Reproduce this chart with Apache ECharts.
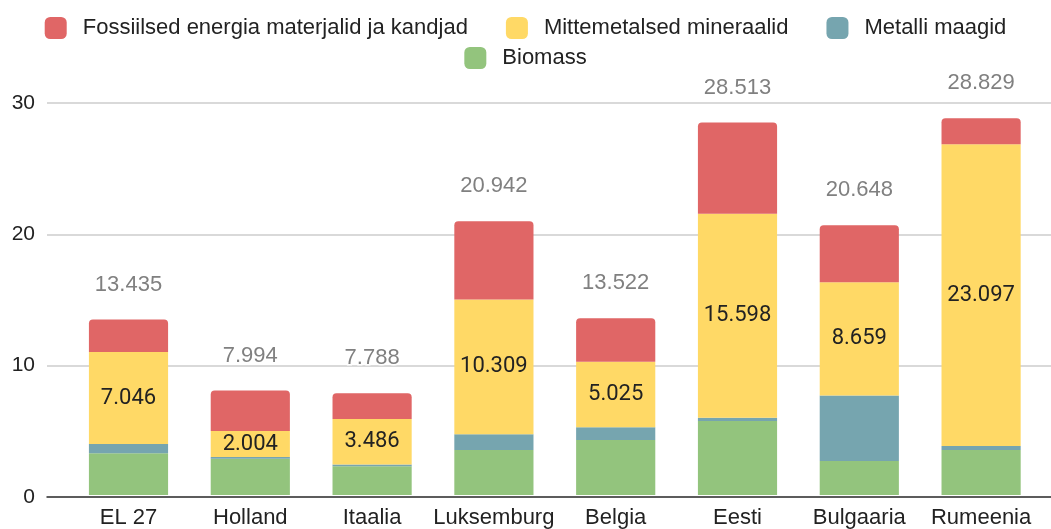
<!DOCTYPE html>
<html>
<head>
<meta charset="utf-8">
<script src="https://cdn.jsdelivr.net/npm/echarts@6/dist/echarts.min.js"></script>
<style>
html,body{margin:0;padding:0;background:#fff;}
#c{width:1051px;height:529px;}
</style>
</head>
<body>
<div id="c"></div>
<script>
const categories = ['EL 27','Holland','Itaalia','Luksemburg','Belgia','Eesti','Bulgaaria','Rumeenia'];
const biomass   = [3.2, 2.77, 2.2, 3.45, 4.2, 5.66, 2.61, 3.45];
const metalli   = [0.7, 0.13, 0.13, 1.2, 0.98, 0.26, 5.01, 0.3];
const mittemet  = [7.046, 2.004, 3.486, 10.309, 5.025, 15.598, 8.659, 23.097];
const fossiilsed= [2.489, 3.086, 1.969, 5.983, 3.317, 6.989, 4.368, 1.982];
const totals    = [13.435, 7.994, 7.788, 20.942, 13.522, 28.513, 20.648, 28.829];
const yTicks    = [0, 10, 20, 30];

const FONT = '"Liberation Sans", Arial, sans-serif';
const chart = echarts.init(document.getElementById('c'));
const fmt = v => v.toFixed(3);

chart.setOption({
  animation:false,
  textStyle:{fontFamily:FONT},
  legend:[
    {data:['Fossiilsed energia materjalid ja kandjad','Mittemetalsed mineraalid','Metalli maagid'],
     top:12,left:'center',itemWidth:22,itemHeight:22,itemGap:38,icon:'roundRect',
     textStyle:{fontSize:22,color:'#222',fontFamily:FONT,padding:[0,0,0,11]}},
    {data:['Biomass'],top:42,left:'center',itemWidth:22,itemHeight:22,icon:'roundRect',
     textStyle:{fontSize:22,color:'#222',fontFamily:FONT,padding:[0,0,0,11]}}
  ],
  grid:[
    {left:67.6,right:9,top:103,bottom:32},
    {left:47,right:0,top:103,bottom:32}
  ],
  xAxis:[
    {type:'category',data:categories,gridIndex:0,axisLine:{show:false},axisTick:{show:false},
     axisLabel:{fontSize:22,color:'#222',margin:12,fontFamily:FONT,interval:0}},
    {type:'value',gridIndex:1,min:0,max:1,axisLabel:{show:false},axisTick:{show:false},splitLine:{show:false},
     axisLine:{show:true,onZero:false,lineStyle:{color:'#333',width:1.5}}}
  ],
  yAxis:[
    {type:'value',gridIndex:0,min:yTicks[0],max:yTicks[yTicks.length-1],interval:10,show:false,splitLine:{show:false}},
    {type:'value',gridIndex:1,min:yTicks[0],max:yTicks[yTicks.length-1],interval:10,
     axisLine:{show:false},axisTick:{show:false},
     axisLabel:{fontSize:21,color:'#222',margin:12,fontFamily:FONT},
     splitLine:{lineStyle:{color:'#cccccc',width:1.5}}}
  ],
  series:[
    {name:'Biomass',type:'bar',stack:'s',data:biomass,barCategoryGap:'35%',itemStyle:{color:'#93c47d'}},
    {name:'Metalli maagid',type:'bar',stack:'s',data:metalli,itemStyle:{color:'#76a5af'}},
    {name:'Mittemetalsed mineraalid',type:'bar',stack:'s',data:mittemet,itemStyle:{color:'#ffd966'},
     label:{show:true,position:'inside',fontSize:22,color:'#222',fontFamily:'Roboto',formatter:p=>fmt(p.value)}},
    {name:'Fossiilsed energia materjalid ja kandjad',type:'bar',stack:'s',data:fossiilsed,
     itemStyle:{color:'#e06666',borderRadius:[4,4,0,0]},
     label:{show:true,position:'top',distance:24,fontSize:22,color:'#808080',fontFamily:FONT,
       textBorderColor:'#fff',textBorderWidth:3,formatter:p=>fmt(totals[p.dataIndex])}}
  ]
});
</script>
</body>
</html>
